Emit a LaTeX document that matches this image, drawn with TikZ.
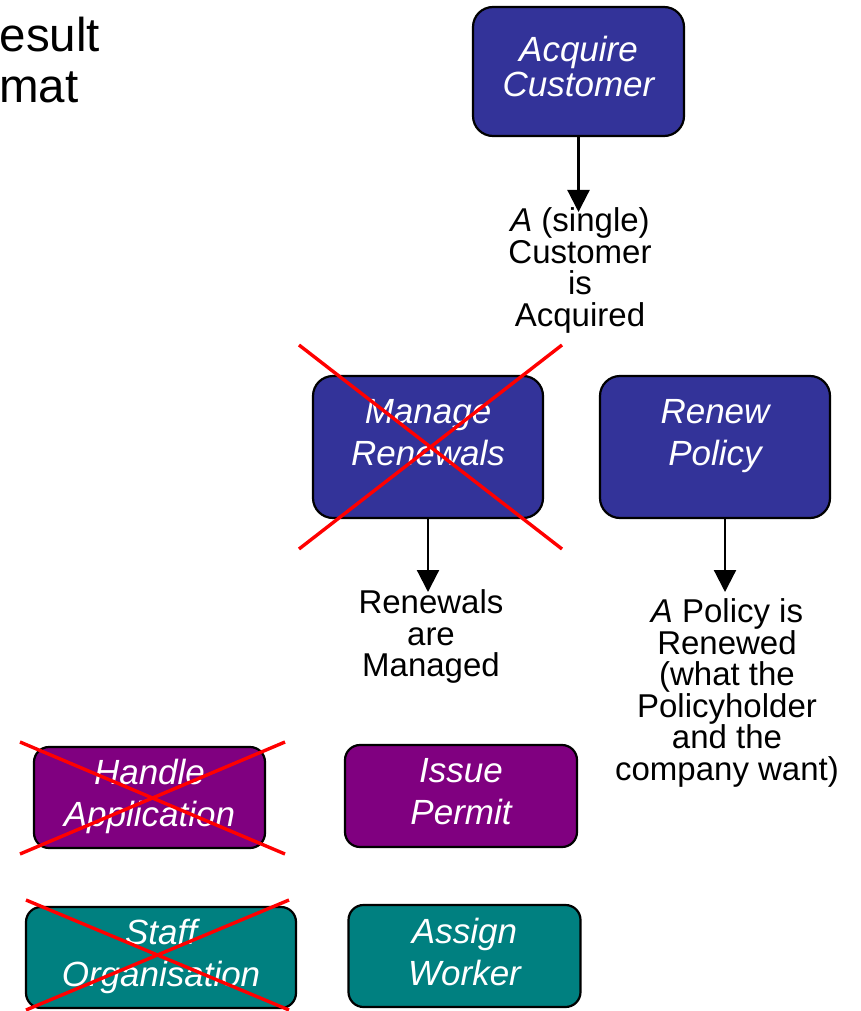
\documentclass[tikz,border=0pt]{standalone}
\usepackage{fontspec}
\setmainfont{Liberation Sans}
\usetikzlibrary{arrows.meta}

\definecolor{navyfill}{RGB}{51,51,153}
\definecolor{plumfill}{RGB}{128,0,128}
\definecolor{tealfill}{RGB}{0,128,128}

% tight line spacing for the outcome texts
\newcommand\outcomefont{\fontsize{33}{31.5}\selectfont\lineskiplimit=-20pt\relax\lineskip=0pt\relax}

\begin{document}
\begin{tikzpicture}[x=1pt,y=-1pt,
  proc/.style={draw=black, line width=2.2pt, text=white, align=center,
    inner sep=0pt, font=\fontsize{35}{42}\selectfont\itshape, text depth=9pt},
  bigproc/.style={proc, rounded corners=20pt},
  smallproc/.style={proc, rounded corners=15pt},
  outcome/.style={align=center, inner sep=0pt, font=\outcomefont},
  heading/.style={inner sep=0pt, anchor=base west, font=\fontsize{47.5}{51}\selectfont},
  arr/.style={line width=2.2pt, -{Triangle[width=22pt,length=22pt]}},
  strike/.style={draw=red, line width=3.4pt}
]
\useasboundingbox (0,0) rectangle (861,1011);

% heading at the left edge
\node[heading] (h1) at (-0.5,52) {esult};
\node[heading] (h2) at (-1,103) {mat};

% processes
\node[bigproc, fill=navyfill, minimum width=211pt, minimum height=129pt,
      font=\fontsize{35}{35}\selectfont\itshape, text depth=10pt]
  (acq) at (578.5,71.5) {Acquire\\Customer};
\node[bigproc, fill=navyfill, minimum width=230pt, minimum height=142pt, text depth=29pt]
  (mr) at (428,447) {Manage\\Renewals};
\node[bigproc, fill=navyfill, minimum width=230pt, minimum height=142pt, text depth=29pt]
  (rp) at (715,447) {Renew\\Policy};
\node[smallproc, fill=plumfill, minimum width=231pt, minimum height=101pt]
  (ha) at (149.5,797.5) {Handle\\Application};
\node[smallproc, fill=plumfill, minimum width=232pt, minimum height=102pt]
  (ip) at (461,796) {Issue\\Permit};
\node[smallproc, fill=tealfill, minimum width=270pt, minimum height=101pt]
  (so) at (161,957.5) {Staff\\Organisation};
\node[smallproc, fill=tealfill, minimum width=232pt, minimum height=102pt]
  (aw) at (464.5,956) {Assign\\Worker};

% outcomes
\node[outcome, anchor=north] (acqlab) at (580,207.4)
  {\textit{A} (single)\\Customer\\is\\Acquired};
\node[outcome, anchor=north] (mrlab) at (431,589.4)
  {Renewals\\are\\Managed};
\node[outcome, anchor=north] (rplab) at (727,598.4)
  {\textit{A} Policy is\\Renewed\\(what the\\Policyholder\\and the\\company want)};

% connectors
\draw[arr, shorten >=-4.6pt] (acq.south) -- (acq.south |- acqlab.north);
\draw[arr, shorten >=-2.6pt] (mr.south) -- (mr.south |- mrlab.north);
\draw[arr, shorten >=6.4pt] ([xshift=10pt]rp.south) -- ([xshift=10pt]rp.south |- rplab.north);

% crossed-out processes
\draw[strike] (299,345) -- (562,549);
\draw[strike] (299,549) -- (562,345);
\draw[strike] (20,742) -- (285,854);
\draw[strike] (20,854) -- (285,742);
\draw[strike] (26,900) -- (289,1010);
\draw[strike] (26,1010) -- (289,900);
\end{tikzpicture}
\end{document}
